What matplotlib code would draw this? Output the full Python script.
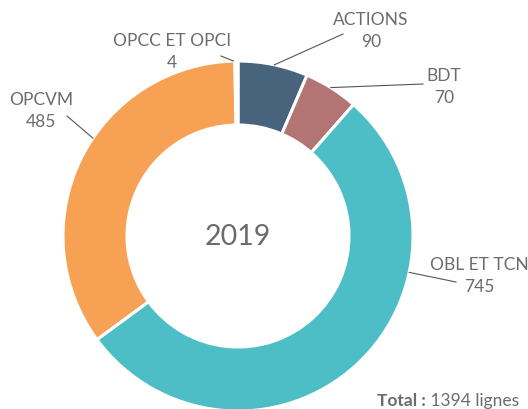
import numpy as np
import matplotlib
matplotlib.use("Agg")
import matplotlib.pyplot as plt

# data
categories = ["ACTIONS", "BDT", "OBL ET TCN", "OPCVM", "OPCC ET OPCI"]
values = [90, 70, 745, 485, 4]
colors = ["#48647c", "#b37474", "#4dbdc6", "#f7a154", "#f0806a"]
year = "2019"
total_label = "1394 lignes"

# layout (pixel coordinates, y measured from top)
W, H = 528, 410
cx, cy = 238, 237
r_out, ring = 175, 64
label_pos = [(371, 31), (444, 87), (479, 276), (41, 111), (172, 52)]
anchor_ang = [78, 58, -12, 146, 91.5]
line_end = [(343, 35), (423, 85), (456, 283), (67, 117), (221, 57)]

plt.rcParams['font.family'] = ['Lato', 'DejaVu Sans']
grey = "#6b6b6b"

fig = plt.figure(figsize=(W / 100, H / 100), dpi=100)
ax = fig.add_axes([0, 0, 1, 1])

ax.pie(values, colors=colors, startangle=90, counterclock=False,
       radius=r_out, center=(cx, H - cy),
       wedgeprops=dict(width=ring, edgecolor="white", linewidth=2.2))
ax.set_xlim(0, W)
ax.set_ylim(0, H)
ax.set_aspect("equal")
ax.axis("off")

for name, v, (lx, ly), ang, (ex, ey) in zip(categories, values, label_pos, anchor_ang, line_end):
    a = np.deg2rad(ang)
    sx = cx + r_out * np.cos(a)
    sy = H - cy + r_out * np.sin(a)
    ax.plot([sx, ex], [sy, H - ey], color="#555555", lw=0.8)
    ax.text(lx, H - ly, f"{name}\n{v}", ha="center", va="center",
            fontsize=12.5, color=grey, linespacing=1.4)

ax.text(cx, H - cy, year, ha="center", va="center", fontsize=20.5, color=grey)

t = ax.text(377, H - 401, "Total :", ha="left", va="center",
            fontsize=12.5, fontweight="bold", color=grey)
ax.annotate(" " + total_label, xycoords=t, xy=(1, 0.5), va="center",
            fontsize=12.5, color=grey)

fig.savefig("out.png", dpi=100)
